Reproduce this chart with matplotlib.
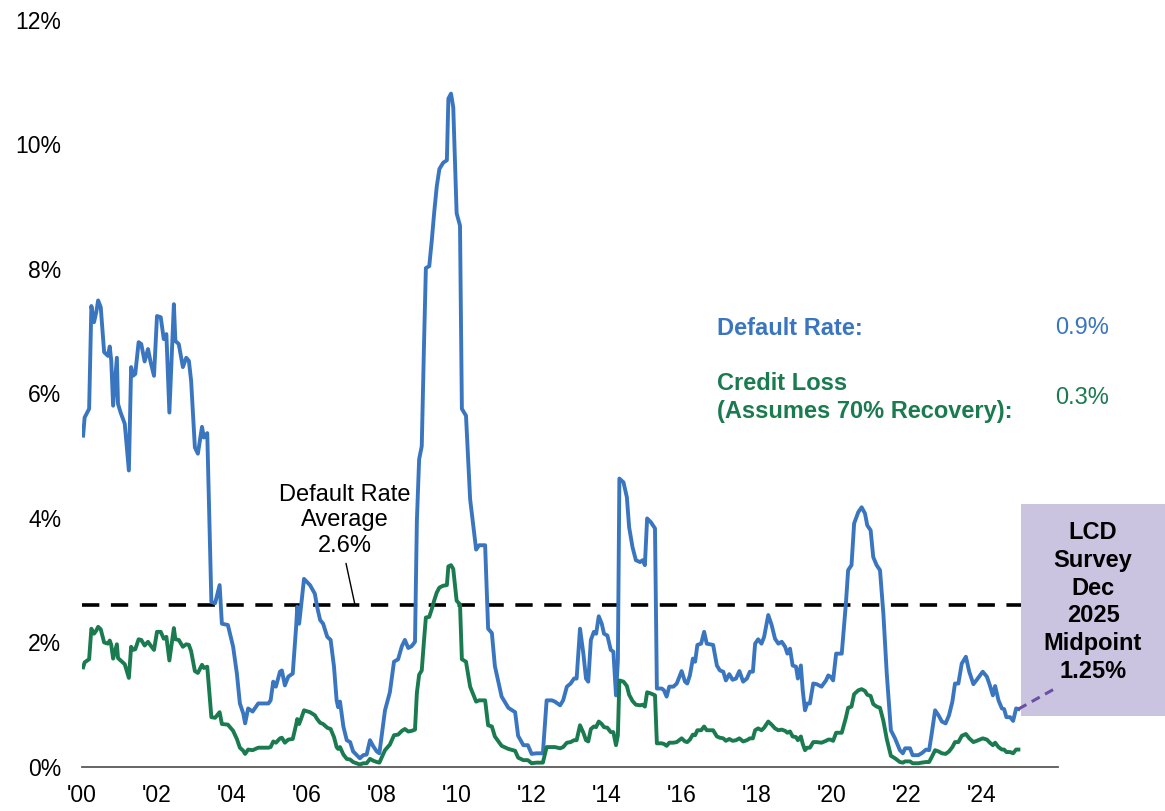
import matplotlib
matplotlib.use("Agg")
import matplotlib.pyplot as plt
from matplotlib.patches import Rectangle

plt.rcParams['font.family'] = ['Liberation Sans', 'DejaVu Sans']

# ---------------- data ----------------
# time in years since Jan 2000
t_years = [
    0.03, 0.07, 0.19, 0.25, 0.32, 0.38, 0.43, 0.50, 0.59, 0.69, 0.74, 0.78, 0.83, 0.93, 0.96,
    1.03, 1.14, 1.25, 1.31, 1.36, 1.42, 1.51, 1.58, 1.67, 1.76, 1.83, 1.92,
    2.00, 2.10, 2.18, 2.25, 2.33, 2.45, 2.49, 2.58, 2.69, 2.78, 2.85, 2.91,
    3.01, 3.09, 3.20, 3.25, 3.34, 3.45, 3.55, 3.67, 3.73, 3.89,
    4.03, 4.13, 4.21, 4.30, 4.35, 4.43, 4.55, 4.70, 4.97,
    5.03, 5.10, 5.17, 5.28, 5.33, 5.41, 5.50, 5.62, 5.71, 5.74, 5.79, 5.84, 5.92,
    6.08, 6.21, 6.27, 6.35, 6.43, 6.54, 6.63, 6.72, 6.79, 6.83, 6.88, 6.97,
    7.06, 7.15, 7.23, 7.41, 7.50, 7.59, 7.68, 7.77, 7.86, 7.93, 7.99,
    8.08, 8.21, 8.32, 8.43, 8.53, 8.61, 8.70, 8.79, 8.88, 8.93, 8.99,
    9.06, 9.12, 9.17, 9.26, 9.33, 9.39, 9.46, 9.53, 9.63, 9.73, 9.77, 9.84, 9.90, 9.99,
    10.08, 10.13, 10.24, 10.35, 10.51, 10.59, 10.75, 10.83, 10.93,
    11.01, 11.19, 11.37, 11.55, 11.63, 11.77, 11.89, 11.99,
    12.12, 12.29, 12.39, 12.53, 12.61, 12.75, 12.83, 12.93,
    13.03, 13.12, 13.19, 13.28, 13.37, 13.44, 13.50, 13.57, 13.65, 13.71, 13.78, 13.86, 13.92,
    14.01, 14.10, 14.17, 14.24, 14.29, 14.33, 14.44, 14.53, 14.59, 14.68, 14.77, 14.88, 14.95,
    15.01, 15.07, 15.17, 15.28, 15.33, 15.46, 15.52, 15.59, 15.66, 15.77, 15.86, 15.99,
    16.08, 16.14, 16.21, 16.29, 16.35, 16.41, 16.51, 16.59, 16.66, 16.83, 16.93,
    17.01, 17.10, 17.17, 17.26, 17.35, 17.44, 17.53, 17.63, 17.73, 17.81, 17.89, 17.95,
    18.03, 18.12, 18.19, 18.30, 18.39, 18.48, 18.57, 18.66, 18.75, 18.81, 18.88, 18.95,
    19.04, 19.09, 19.17, 19.22, 19.28, 19.34, 19.41, 19.50, 19.59, 19.72, 19.84, 19.90, 19.96,
    20.03, 20.11, 20.26, 20.37, 20.43, 20.52, 20.59, 20.70, 20.79, 20.88, 20.94,
    21.03, 21.10, 21.19, 21.28, 21.37, 21.46, 21.57, 21.68, 21.81, 21.89, 21.95,
    22.08, 22.15, 22.30, 22.39, 22.51, 22.59, 22.66, 22.75, 22.84, 22.93,
    23.03, 23.12, 23.21, 23.28, 23.37, 23.46, 23.57, 23.66, 23.77, 23.86,
    24.02, 24.13, 24.21, 24.29, 24.35, 24.44, 24.53, 24.59, 24.65, 24.75, 24.83, 24.91, 24.97,
]

default_rate = [
    5.32, 5.61, 5.75, 7.40, 7.14, 7.30, 7.49, 7.38, 6.66, 6.60, 6.75, 6.52, 5.80, 6.57, 5.83,
    5.69, 5.51, 4.76, 6.42, 6.28, 6.31, 6.82, 6.79, 6.51, 6.71, 6.50, 6.28,
    7.24, 7.22, 6.87, 6.95, 5.69, 7.43, 6.84, 6.79, 6.42, 6.57, 6.52, 6.20,
    5.13, 5.03, 5.46, 5.29, 5.36, 2.65, 2.63, 2.92, 2.30, 2.28,
    1.93, 1.50, 1.02, 0.86, 0.70, 0.94, 0.89, 1.02, 1.02,
    1.07, 1.37, 1.29, 1.53, 1.55, 1.31, 1.45, 1.50, 2.25, 2.57, 2.30, 2.57, 3.02,
    2.92, 2.78, 2.57, 2.36, 2.30, 2.09, 2.04, 1.61, 1.07, 0.96, 1.05, 0.65,
    0.43, 0.40, 0.25, 0.14, 0.19, 0.20, 0.43, 0.33, 0.25, 0.22, 0.50,
    0.91, 1.20, 1.69, 1.73, 1.94, 2.04, 1.91, 1.94, 2.01, 3.95, 4.94,
    5.15, 6.78, 8.01, 8.04, 8.47, 8.89, 9.32, 9.60, 9.70, 9.74, 10.73, 10.81, 10.59, 8.89,
    8.69, 5.75, 5.64, 4.30, 3.49, 3.56, 3.56, 2.22, 2.15,
    1.62, 1.13, 0.95, 0.88, 0.50, 0.35, 0.35, 0.21,
    0.22, 0.22, 1.07, 1.07, 1.05, 0.99, 1.07, 1.29,
    1.34, 1.42, 1.42, 2.22, 1.82, 1.42, 1.37, 2.04, 2.17, 2.14, 2.42, 2.30, 2.14,
    2.11, 1.88, 1.85, 1.15, 1.71, 4.63, 4.57, 4.33, 3.85, 3.53, 3.32, 3.29, 3.32,
    3.24, 3.99, 3.93, 3.83, 1.26, 1.26, 1.23, 1.13, 1.29, 1.29, 1.34, 1.54,
    1.37, 1.34, 1.47, 1.74, 1.69, 1.96, 1.98, 2.17, 1.98, 1.96, 1.63,
    1.55, 1.53, 1.39, 1.49, 1.40, 1.42, 1.54, 1.37, 1.42, 1.53, 1.53, 1.98,
    2.05, 1.98, 2.09, 2.44, 2.28, 2.06, 1.98, 2.01, 1.93, 1.82, 1.90, 1.63,
    1.61, 1.42, 1.63, 1.23, 0.91, 1.02, 1.02, 1.34, 1.33, 1.29, 1.39, 1.47, 1.45,
    1.39, 1.82, 1.82, 2.62, 3.16, 3.24, 3.91, 4.09, 4.17, 4.07, 3.88,
    3.80, 3.37, 3.24, 3.16, 2.46, 1.50, 0.59, 0.46, 0.27, 0.22, 0.30,
    0.30, 0.19, 0.19, 0.22, 0.28, 0.27, 0.54, 0.91, 0.83, 0.73,
    0.70, 0.83, 1.05, 1.34, 1.34, 1.66, 1.77, 1.53, 1.33, 1.40,
    1.53, 1.45, 1.31, 1.15, 1.30, 1.07, 0.94, 0.93, 0.80, 0.80, 0.74, 0.94, 0.93,
]

credit_loss = [
    1.60, 1.68, 1.73, 2.22, 2.14, 2.19, 2.25, 2.21, 2.00, 1.98, 2.03, 1.96, 1.74, 1.97, 1.75,
    1.71, 1.65, 1.43, 1.93, 1.88, 1.89, 2.05, 2.04, 1.95, 2.01, 1.95, 1.88,
    2.17, 2.17, 2.06, 2.09, 1.71, 2.23, 2.05, 2.04, 1.93, 1.97, 1.96, 1.86,
    1.54, 1.51, 1.64, 1.59, 1.61, 0.80, 0.79, 0.88, 0.69, 0.68,
    0.58, 0.45, 0.31, 0.26, 0.21, 0.28, 0.27, 0.31, 0.31,
    0.32, 0.41, 0.39, 0.46, 0.47, 0.39, 0.44, 0.45, 0.68, 0.77, 0.69, 0.77, 0.91,
    0.88, 0.83, 0.77, 0.71, 0.69, 0.63, 0.61, 0.48, 0.32, 0.29, 0.32, 0.20,
    0.13, 0.12, 0.08, 0.04, 0.06, 0.06, 0.13, 0.10, 0.08, 0.07, 0.15,
    0.27, 0.36, 0.51, 0.52, 0.58, 0.61, 0.57, 0.58, 0.60, 1.19, 1.48,
    1.55, 2.03, 2.40, 2.41, 2.54, 2.67, 2.80, 2.88, 2.91, 2.92, 3.22, 3.24, 3.18, 2.67,
    2.61, 1.73, 1.69, 1.29, 1.05, 1.07, 1.07, 0.67, 0.65,
    0.49, 0.34, 0.29, 0.26, 0.15, 0.11, 0.11, 0.06,
    0.07, 0.07, 0.32, 0.32, 0.32, 0.30, 0.32, 0.39,
    0.40, 0.43, 0.43, 0.67, 0.55, 0.43, 0.41, 0.61, 0.65, 0.64, 0.73, 0.69, 0.64,
    0.63, 0.56, 0.56, 0.35, 0.51, 1.39, 1.37, 1.30, 1.16, 1.06, 1.00, 0.99, 1.00,
    0.97, 1.20, 1.18, 1.15, 0.38, 0.38, 0.37, 0.34, 0.39, 0.39, 0.40, 0.46,
    0.41, 0.40, 0.44, 0.52, 0.51, 0.59, 0.59, 0.65, 0.59, 0.59, 0.49,
    0.47, 0.46, 0.42, 0.45, 0.42, 0.43, 0.46, 0.41, 0.43, 0.46, 0.46, 0.59,
    0.62, 0.59, 0.63, 0.73, 0.68, 0.62, 0.59, 0.60, 0.58, 0.55, 0.57, 0.49,
    0.48, 0.43, 0.49, 0.37, 0.27, 0.31, 0.31, 0.40, 0.40, 0.39, 0.42, 0.44, 0.44,
    0.42, 0.55, 0.55, 0.79, 0.95, 0.97, 1.17, 1.23, 1.25, 1.22, 1.16,
    1.14, 1.01, 0.97, 0.95, 0.74, 0.45, 0.18, 0.14, 0.08, 0.07, 0.09,
    0.09, 0.06, 0.06, 0.07, 0.08, 0.08, 0.16, 0.27, 0.25, 0.22,
    0.21, 0.25, 0.32, 0.40, 0.40, 0.50, 0.53, 0.46, 0.40, 0.42,
    0.46, 0.44, 0.39, 0.35, 0.39, 0.32, 0.28, 0.28, 0.24, 0.24, 0.22, 0.28, 0.28,
]

avg_default_rate = 2.6
lcd_year = 25.92          # Dec 2025, years since Jan 2000
lcd_midpoint = 1.25
current_default = "0.9%"
current_loss = "0.3%"

tick_years = [0, 2, 4, 6, 8, 10, 12, 14, 16, 18, 20, 22, 24]
tick_labels = ["'00", "'02", "'04", "'06", "'08", "'10", "'12", "'14", "'16", "'18", "'20", "'22", "'24"]
y_ticks = [0, 2, 4, 6, 8, 10, 12]
y_labels = ["0%", "2%", "4%", "6%", "8%", "10%", "12%"]

# ---------------- style ----------------
BLUE = "#3a76c0"
GREEN = "#1b7b50"
PURPLE = "#6b4fa6"
BOX = "#cbc4e0"
W, H = 1165, 811

fig = plt.figure(figsize=(W / 100, H / 100), dpi=100)
ax = fig.add_axes([82 / W, 1 - 767 / H, (1058 - 82) / W, (767 - 19.5) / H])


def fx(px):
    return px / W


def fy(py):
    return 1 - py / H


ax.plot(t_years, default_rate, color=BLUE, lw=2.8, solid_joinstyle='round', zorder=3)
ax.plot(t_years, credit_loss, color=GREEN, lw=2.8, solid_joinstyle='round', zorder=3)
ax.axhline(avg_default_rate, color='black', lw=2.6, ls=(0, (4.8, 3.2)), zorder=2)

ax.set_xlim(0, (1058 - 82) / 37.5)
ax.set_ylim(0, 12)

ax.set_xticks(tick_years)
ax.set_xticklabels(tick_labels, fontsize=16.5)
ax.set_yticks(y_ticks)
ax.set_yticklabels(y_labels, fontsize=16.5)
ax.tick_params(axis='both', length=0)
ax.tick_params(axis='y', pad=15)
ax.tick_params(axis='x', pad=12)
for s in ['top', 'right', 'left']:
    ax.spines[s].set_visible(False)
ax.spines['bottom'].set_color('#595959')
ax.spines['bottom'].set_linewidth(1.3)

# LCD survey box (figure coords) and the projection line drawn above it
box = Rectangle((fx(1021), fy(716)), fx(1170) - fx(1021), fy(504) - fy(716),
                transform=fig.transFigure, facecolor=BOX, edgecolor='none',
                clip_on=False, zorder=4)
ax.add_artist(box)
ax.plot([t_years[-1], lcd_year], [default_rate[-1], lcd_midpoint], color=PURPLE,
        lw=2.2, ls=(0, (3, 2)), zorder=5, clip_on=False)
fig.text(fx(1093), fy(602), "LCD\nSurvey\nDec\n2025\nMidpoint\n1.25%",
         ha='center', va='center', fontsize=17, fontweight='bold',
         linespacing=1.27, color='black')

# average annotation
ax.text((345 - 82) / 37.5, (767 - 520) / 62.4, "Default Rate\nAverage\n2.6%",
        ha='center', va='center', fontsize=17, linespacing=1.2)
ax.annotate("", xy=((355 - 82) / 37.5, avg_default_rate),
            xytext=((346 - 82) / 37.5, (767 - 563) / 62.4),
            arrowprops=dict(arrowstyle='-', color='black', lw=1.0,
                            shrinkA=0, shrinkB=0))

# legend-like labels
fig.text(fx(717), fy(328), "Default Rate:", color=BLUE, fontsize=17,
         fontweight='bold', va='center', ha='left')
fig.text(fx(1055), fy(328), current_default, color=BLUE, fontsize=17,
         va='center', ha='left')
fig.text(fx(717), fy(397.5), "Credit Loss\n(Assumes 70% Recovery):", color=GREEN,
         fontsize=17, fontweight='bold', va='center', ha='left', linespacing=1.28)
fig.text(fx(1055), fy(398), current_loss, color=GREEN, fontsize=17,
         va='center', ha='left')

fig.savefig("out.png", dpi=100)
